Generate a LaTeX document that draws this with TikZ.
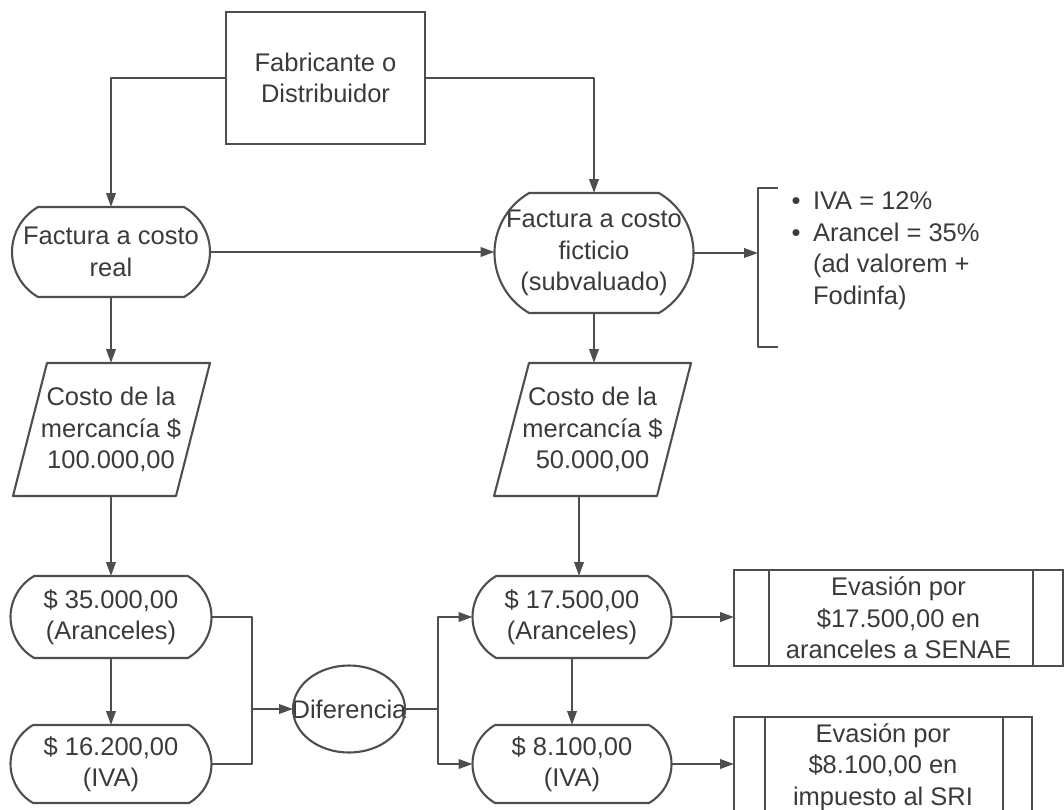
\documentclass[tikz,border=0pt]{standalone}
\usepackage{fontspec}
\setmainfont{Liberation Sans}
\usetikzlibrary{arrows.meta,calc}
\definecolor{lncol}{RGB}{78,78,78}
\definecolor{txtcol}{RGB}{58,58,58}
\newcommand\drawstadium[1]{%
  \draw[ln] let \p1=(#1.north west), \p2=(#1.south east),
    \n1={0.28868*(\y1-\y2)}, \n2={0.57735*(\y1-\y2)} in
    (\x2-\n1,\y1) arc[start angle=60,end angle=-60,radius=\n2]
    -- (\x1+\n1,\y2) arc[start angle=240,end angle=120,radius=\n2] -- cycle;}
\begin{document}
\begin{tikzpicture}[x=1pt,y=1pt,
  ln/.style={draw=lncol,line width=2.1pt,line join=round},
  arr/.style={ln,-{Triangle[length=14pt,width=9.5pt]}},
  txt/.style={text=txtcol,font=\fontsize{25.5}{31.5}\selectfont,align=center,inner sep=0pt,outer sep=0pt},
  plain/.style={txt,draw=none,rectangle},
  boxn/.style={txt,draw=lncol,line width=2.1pt,rectangle}]
\useasboundingbox (0,0) rectangle (1064,-809);
\clip (0,0) rectangle (1064,-809);

% nodes
\node[boxn,minimum width=199pt,minimum height=132pt] (fab) at (325.5,-78) {Fabricante o\\Distribuidor};
\node[plain,minimum width=198pt,minimum height=90pt] (real) at (111,-252) {Factura a costo\\real};
\node[plain,minimum width=199pt,minimum height=120pt] (fict) at (594,-253) {Factura a costo\\ficticio\\(subvaluado)};
\node[plain,minimum width=197pt,minimum height=133pt] (pl) at (111,-429.5) {Costo de la\\mercancía \$\\100.000,00};
\node[plain,minimum width=197pt,minimum height=133pt] (pr) at (592.5,-429.5) {Costo de la\\mercancía \$\\50.000,00};
\node[plain,minimum width=201pt,minimum height=82pt] (a35) at (111,-617) {\$ 35.000,00\\(Aranceles)};
\node[plain,minimum width=201pt,minimum height=78pt] (i16) at (111,-764) {\$ 16.200,00\\(IVA)};
\node[plain,minimum width=199pt,minimum height=82pt] (a17) at (572,-617) {\$ 17.500,00\\(Aranceles)};
\node[plain,minimum width=199pt,minimum height=78pt] (i81) at (572,-764) {\$ 8.100,00\\(IVA)};
\node[plain,minimum width=112pt,minimum height=87pt] (dif) at (349,-709) {\makebox[110pt]{Diferencia}};
\node[boxn,minimum width=329pt,minimum height=96pt] (b1) at (898.5,-618) {Evasión por\\\$17.500,00 en\\aranceles a SENAE};
\node[boxn,minimum width=298pt,minimum height=100pt] (b2) at (883,-767) {Evasión por\\\$8.100,00 en\\impuesto al SRI};
\node[txt,align=left,anchor=west] (bul) at (791.5,-250.5) {\makebox[21.5pt][l]{•}IVA = 12\%\\\makebox[21.5pt][l]{•}Arancel = 35\%\\\hspace*{21.5pt}(ad valorem +\\\hspace*{21.5pt}Fodinfa)};

% outlines
\drawstadium{real}
\drawstadium{fict}
\drawstadium{a35}
\drawstadium{i16}
\drawstadium{a17}
\drawstadium{i81}
\draw[ln] (47,-363) -- (210,-363) -- (176,-496) -- (13,-496) -- cycle;
\draw[ln] (529,-363) -- (691,-363) -- (657,-496) -- (494,-496) -- cycle;
\draw[ln] (dif.center) ellipse[x radius=56, y radius=43.5];
\draw[ln] ($(b1.north west)+(35,0)$) -- ($(b1.south west)+(35,0)$);
\draw[ln] ($(b1.north east)+(-30,0)$) -- ($(b1.south east)+(-30,0)$);
\draw[ln] ($(b2.north west)+(31,0)$) -- ($(b2.south west)+(31,0)$);
\draw[ln] ($(b2.north east)+(-29,0)$) -- ($(b2.south east)+(-29,0)$);
% bracket
\draw[ln] (778,-188) -- (758,-188) -- (758,-347) -- (778,-347);
\coordinate (brk) at (758,-253);

% connectors
\draw[arr] (fab.west) -| (real.north);
\draw[arr] (fab.east) -| (fict.north);
\draw[arr] (real.east) -- (real.east -| fict.west);
\draw[arr] (fict.east) -- (fict.east -| brk);
\draw[arr] (real.south) -- (real.south |- pl.north);
\draw[arr] (fict.south) -- (fict.south |- pr.north);
\draw[arr] (pl.south) -- (pl.south |- a35.north);
\coordinate (prb) at (579,-496);
\draw[arr] (prb) -- (prb |- a17.north);
\draw[arr] (a35.south) -- (a35.south |- i16.north);
\draw[arr] (a17.south) -- (a17.south |- i81.north);
\coordinate (jl) at (252,-709);
\coordinate (jr) at (438,-709);
\draw[ln] (a35.east) -| (jl) |- (i16.east);
\draw[arr] (jl) -- (dif.west);
\draw[ln] (dif.east) -- (jr);
\draw[arr] (jr) |- (a17.west);
\draw[arr] (jr) |- (i81.west);
\draw[arr] (a17.east) -- (a17.east -| b1.west);
\draw[arr] (i81.east) -- (i81.east -| b2.west);
\end{tikzpicture}
\end{document}
